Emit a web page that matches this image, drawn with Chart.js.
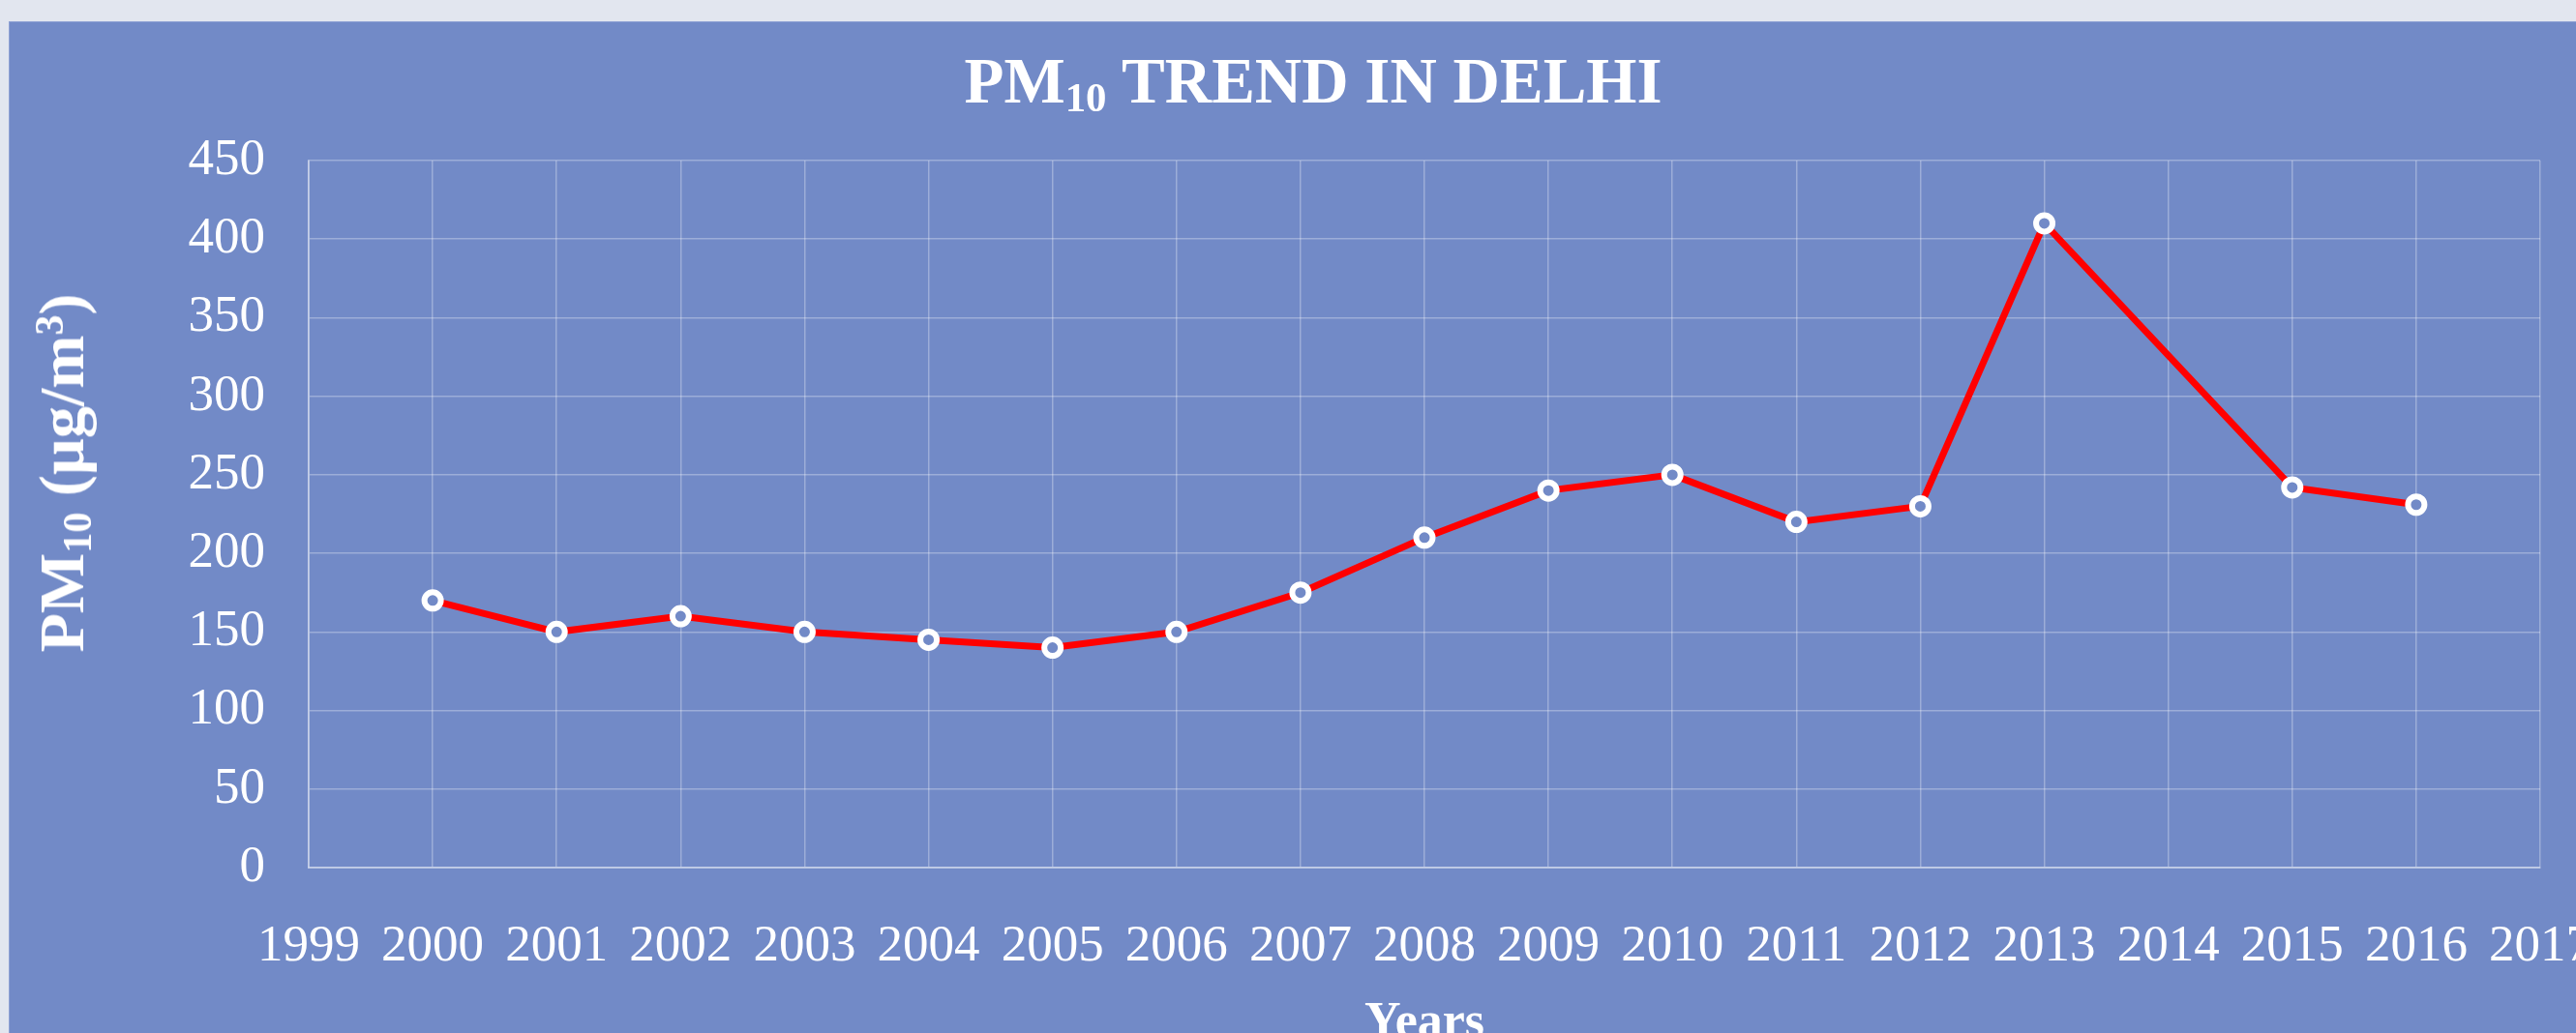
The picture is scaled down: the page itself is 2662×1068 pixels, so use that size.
<!DOCTYPE html>
<html lang="en">
<head>
	<meta charset="UTF-8">
	<title>PM10 Trend in Delhi</title>
	<script src="https://cdn.jsdelivr.net/npm/chart.js"></script>
	<style>
		html, body { margin: 0; padding: 0; }
		body {
			width: 2662px; height: 1068px; overflow: hidden;
			background-color: #e2e6ef;
			position: relative;
			font-family: "Liberation Serif", "Times New Roman", serif;
		}
		#box {
			position: absolute; left: 9px; top: 22px;
			width: 2800px; height: 1080px;
			background-color: #728ac7;
			border-top: 1px solid #8ea1d4;
			border-left: 1px solid #8ea1d4;
			box-sizing: border-box;
		}
		#myChart { position: absolute; left: -1px; top: -1px; }
		.titulo {
			position: absolute; color: #fff; font-weight: bold;
			white-space: nowrap; line-height: 1;
		}
		.sub { font-size: 0.64em; position: relative; top: 0.2em; }
		.sup { font-size: 0.64em; position: relative; top: -0.5em; }
	</style>
</head>
<body>
	<div id="box">
		<canvas id="myChart" width="2800" height="1080"></canvas>
	</div>
	<!-- titulos con subindice, como texto html -->
	<div class="titulo" style="left: 1357px; top: 83px; font-size: 67px; transform: translate(-50%, -50%);">
		PM<span class="sub">10</span> TREND IN DELHI
	</div>
	<div class="titulo" style="left: 64px; top: 489px; font-size: 66px; transform: translate(-50%, -50%) rotate(-90deg);">
		PM<span class="sub">10</span> (µg/m<span class="sup">3</span>)
	</div>

	<script type="text/javascript">
		// datos
		var years = ['1999', '2000', '2001', '2002', '2003', '2004', '2005', '2006', '2007', '2008',
			'2009', '2010', '2011', '2012', '2013', '2014', '2015', '2016', '2017'];
		var pm10 = [null, 170, 150, 160, 150, 145, 140, 150, 175, 210,
			240, 250, 220, 230, 410, null, 242, 231, null];
		var yMin = 0;
		var yMax = 450;
		var yStep = 50;

		var gridColor = 'rgba(255, 255, 255, 0.3)';
		var fuente = '"Liberation Serif", "Times New Roman", serif';
		var ctx = document.getElementById('myChart');

		var myLineChart = new Chart(ctx, {
			type: 'line',
			data: {
				labels: years,
				datasets: [{
					label: 'PM10',
					data: pm10,
					borderColor: '#ff0000',
					borderWidth: 7,
					tension: 0,
					spanGaps: true,
					pointRadius: 8.5,
					pointBorderWidth: 6,
					pointBorderColor: '#ffffff',
					pointBackgroundColor: '#728ac7',
					fill: false
				}]
			},
			options: {
				responsive: false,
				animation: false,
				layout: {
					// el lado derecho queda fuera de la ventana, como en la imagen
					padding: { left: 0, right: 184, top: 144, bottom: 0 }
				},
				plugins: {
					legend: { display: false },
					tooltip: { enabled: false },
					title: { display: false }
				},
				scales: {
					x: {
						offset: false,
						grid: { color: gridColor, lineWidth: 1.5, drawTicks: false, offset: false },
						border: { color: 'rgba(255, 255, 255, 0.4)', width: 2 },
						ticks: {
							color: '#ffffff',
							padding: 56,
							maxRotation: 0,
							autoSkip: false,
							font: { family: fuente, size: 53, lineHeight: 1 }
						},
						title: {
							display: true,
							text: 'Years',
							color: '#ffffff',
							padding: { top: 0, bottom: 17 },
							font: { family: fuente, size: 52, weight: 'bold', lineHeight: 1 }
						},
						afterFit: function(scale) { scale.height = 205; }
					},
					y: {
						min: yMin,
						max: yMax,
						grid: { color: gridColor, lineWidth: 1.5, drawTicks: false },
						border: { color: 'rgba(255, 255, 255, 0.4)', width: 2 },
						ticks: {
							stepSize: yStep,
							color: '#ffffff',
							padding: 45,
							font: { family: fuente, size: 53, lineHeight: 1 }
						},
						afterFit: function(scale) { scale.width = 310; }
					}
				}
			}
		});
	</script>
</body>
</html>
